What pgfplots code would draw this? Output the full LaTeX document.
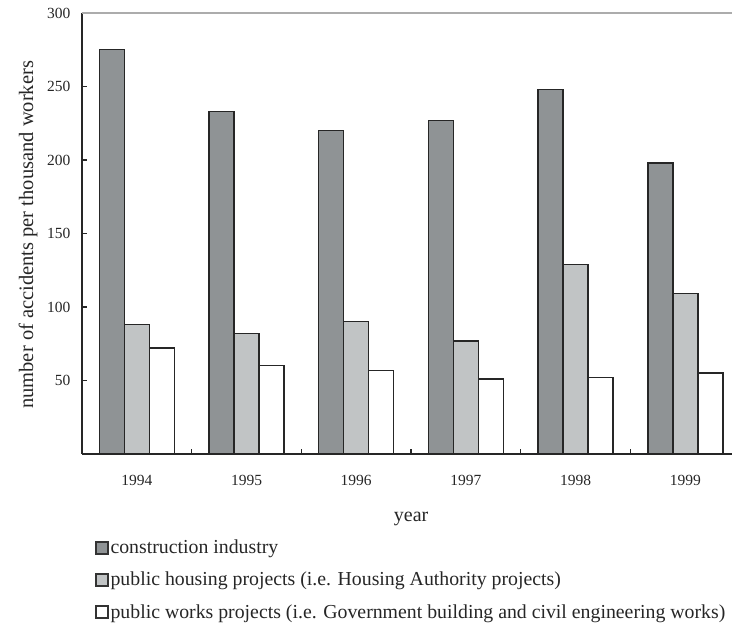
\documentclass[border=0pt]{standalone}
\usepackage{fontspec}
\setmainfont{Liberation Serif}
\usepackage{pgfplots}
\pgfplotsset{compat=1.18}
\definecolor{cons}{HTML}{8F9395}
\definecolor{hous}{HTML}{C1C4C5}
\definecolor{txt}{HTML}{262626}
\begin{document}
\begin{tikzpicture}
\begin{axis}[
  at={(82pt,174pt)}, anchor=south west,
  scale only axis, width=650.5pt, height=441pt,
  xmin=-0.5, xmax=5.43, ymin=0, ymax=300,
  clip=false,
  ybar=0pt, bar width=25pt,
  axis x line*=bottom, axis y line*=left,
  axis line style={-, black!85, line width=1.5pt},
  xtick={0,1,2,3,4,5}, xticklabels={1994,1995,1996,1997,1998,1999},
  major x tick style={draw=none},
  minor xtick={0.5,1.5,2.5,3.5,4.5},
  minor tick length=5pt,
  ytick={50,100,150,200,250,300},
  tick align=inside, major tick length=5pt,
  tick style={black!85, line width=1.2pt},
  /pgf/number format/assume math mode=true,
  yticklabel style={font=\fontsize{15.5}{18}\selectfont, text=txt, xshift=-8pt},
  xticklabel style={font=\fontsize{15.5}{18}\selectfont, text=txt, yshift=-18pt},
  xlabel={year},
  xlabel style={at={(rel axis cs:0.506,-0.147)}, anchor=center, font=\fontsize{20}{24}\selectfont, text=txt},
  ylabel={number of accidents per thousand workers},
  ylabel style={at={(rel axis cs:-0.083,0.497)}, anchor=center, rotate=0, font=\fontsize{20.5}{24}\selectfont, text=txt},
  legend style={draw=none, fill=none, at={(rel axis cs:0.019,-0.19)}, anchor=north west,
    font=\fontsize{19.8}{23}\selectfont, text=txt, row sep=13pt, inner sep=0pt,
    /tikz/every even column/.style={column sep=0pt}},
  legend cell align=left,
  legend image code/.code={\draw[#1, line width=2pt, draw=black!80] (0pt,-6pt) rectangle (12pt,6pt);},
]
\addplot[fill=cons, draw=black!85, line width=1.4pt] coordinates {(0,275) (1,233) (2,220) (3,227) (4,248) (5,198)};
\addplot[fill=hous, draw=black!85, line width=1.4pt] coordinates {(0,88) (1,82) (2,90) (3,77) (4,129) (5,109)};
\addplot[fill=white, draw=black!85, line width=1.4pt] coordinates {(0,72) (1,60) (2,57) (3,51) (4,52) (5,55)};
\legend{construction industry, public housing projects (i.e. Housing Authority projects), public works projects (i.e. Government building and civil engineering works)}
\draw[gray!65, line width=1.4pt] (rel axis cs:0,1) -- (rel axis cs:1,1);
\end{axis}
\pgfresetboundingbox
\path[use as bounding box] (0pt,0pt) rectangle (732pt,628pt);
\end{tikzpicture}
\end{document}
